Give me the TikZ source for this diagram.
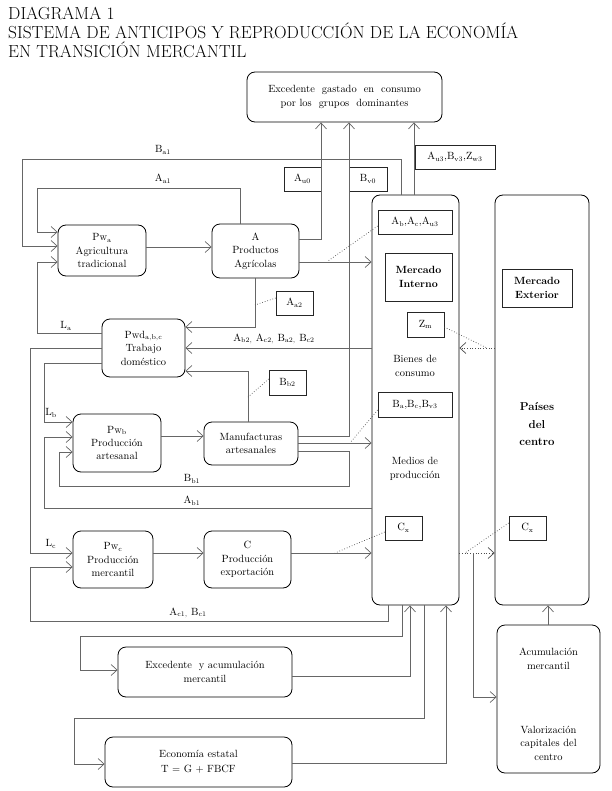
\documentclass[tikz,border=0pt]{standalone}
\usetikzlibrary{arrows.meta}
\begin{document}
\begin{tikzpicture}[x=1bp,y=-1bp,
  txt/.style={font=\fontsize{10.5}{13.5}\selectfont, align=center},
  rbox/.style={txt, draw, line width=0.8bp, rounded corners=8bp, inner sep=0pt},
  lbox/.style={txt, draw=black!85, line width=0.7bp, inner sep=0pt},
  conn/.style={draw=black!60, line width=0.7bp},
  arr/.style={conn, -{Straight Barb[length=6bp,width=11bp,line width=0.7bp]}},
  dots/.style={draw=black!70, line width=0.7bp, dotted},
  darr/.style={dots, -{Straight Barb[length=6bp,width=11bp,line width=0.7bp,sep=0pt]}},
  plain/.style={txt, inner sep=0pt}]
\useasboundingbox (0,0) rectangle (612,791);

% title
\node[anchor=north west, align=left, inner sep=0pt, font=\fontsize{17.5}{19}\selectfont] (title) at (8,7)
  {DIAGRAMA 1\\SISTEMA DE ANTICIPOS Y REPRODUCCIÓN DE LA ECONOMÍA\\EN TRANSICIÓN MERCANTIL};

% main boxes
\node[rbox, minimum width=195bp, minimum height=50bp] (top) at (344.5,97) {Excedente\ \ gastado\ \ en\ \ consumo\\por los\ \ grupos\ \ dominantes};
\node[rbox, minimum width=88bp, minimum height=51bp] (pwa) at (102,250.5) {Pw$_{\mathrm a}$\\Agricultura\\tradicional};
\node[rbox, minimum width=87bp, minimum height=54bp] (agr) at (255.5,251) {A\\Productos\\Agrícolas};
\node[rbox, minimum width=83bp, minimum height=58bp] (pwd) at (143.5,348) {Pwd$_{\mathrm{a,b,c}}$\\Trabajo\\doméstico};
\node[rbox, minimum width=88bp, minimum height=58bp] (pwb) at (117,443) {Pw$_{\mathrm b}$\\Producción\\artesanal};
\node[rbox, minimum width=94bp, minimum height=43bp] (man) at (251,443.5) {Manufacturas\\artesanales};
\node[rbox, minimum width=80bp, minimum height=57bp] (pwc) at (113,559.5) {Pw$_{\mathrm c}$\\Producción\\mercantil};
\node[rbox, minimum width=87bp, minimum height=57bp] (cexp) at (247.5,559.5) {C\\Producción\\exportación};
\node[rbox, minimum width=87bp, minimum height=410bp] (mi) at (415.5,400) {};
\node[rbox, minimum width=94bp, minimum height=410bp] (pc) at (542,400) {};
\node[rbox, minimum width=174bp, minimum height=50bp] (exc) at (205,672) {Excedente\ \ y acumulación\\mercantil};
\node[rbox, minimum width=187bp, minimum height=50bp] (est) at (198.5,762) {Economía estatal\\[2bp]T = G + FBCF};
\node[rbox, minimum width=103bp, minimum height=148bp] (acu) at (548.5,699) {};
\node[plain] (acu1) at (548.5,659) {Acumulación\\mercantil};
\node[plain] (acu2) at (548.5,743) {Valorización\\capitales del\\centro};

% label boxes
\node[lbox, minimum width=37bp, minimum height=24bp] (lau0) at (302.5,179) {A$_{\mathrm{u0}}$};
\node[lbox, minimum width=38bp, minimum height=24bp] (lbv0) at (368,179) {B$_{\mathrm{v0}}$};
\node[lbox, minimum width=80bp, minimum height=24bp] (lau3) at (455,157) {A$_{\mathrm{u3}}$,B$_{\mathrm{v3}}$,Z$_{\mathrm{w3}}$};
\node[lbox, minimum width=74bp, minimum height=24bp] (labc) at (415,222) {A$_{\mathrm{b}}$,A$_{\mathrm{c}}$,A$_{\mathrm{u3}}$};
\node[lbox, minimum width=67bp, minimum height=48bp] (lmi) at (418.5,277) {\textbf{Mercado}\\\textbf{Interno}};
\node[lbox, minimum width=37bp, minimum height=25bp] (lzm) at (425.5,324.5) {Z$_{\mathrm{m}}$};
\node[plain] (bien) at (415,366) {Bienes de\\consumo};
\node[lbox, minimum width=74bp, minimum height=25bp] (lbbc) at (415,404.5) {B$_{\mathrm{a}}$,B$_{\mathrm{c}}$,B$_{\mathrm{v3}}$};
\node[plain] (med) at (415,469) {Medios de\\producción};
\node[lbox, minimum width=37bp, minimum height=24bp] (lcx1) at (403.5,528) {C$_{\mathrm{x}}$};
\node[lbox, minimum width=70bp, minimum height=38bp] (lme) at (537,288) {\textbf{Mercado}\\\textbf{Exterior}};
\node[plain, font=\fontsize{11.5}{17.5}\selectfont\bfseries] (pais) at (537,424) {Países\\del\\centro};
\node[lbox, minimum width=37bp, minimum height=24bp] (lcx2) at (527.5,528) {C$_{\mathrm{x}}$};
\node[lbox, minimum width=37bp, minimum height=24bp] (laa2) at (294.5,303) {A$_{\mathrm{a2}}$};
\node[lbox, minimum width=37bp, minimum height=25bp] (lbb2) at (287.5,382.5) {B$_{\mathrm{b2}}$};

% connector labels
\node[plain] (tba1) at (163,150) {B$_{\mathrm{a1}}$};
\node[plain] (taa1) at (163,179) {A$_{\mathrm{a1}}$};
\node[plain] (tla) at (66,326) {L$_{\mathrm{a}}$};
\node[plain] (tab2) at (274,339) {A$_{\mathrm{b2,}}$ A$_{\mathrm{c2,}}$ B$_{\mathrm{a2,}}$ B$_{\mathrm{c2}}$};
\node[plain] (tlb) at (51,413) {L$_{\mathrm{b}}$};
\node[plain] (tbb1) at (192,479) {B$_{\mathrm{b1}}$};
\node[plain] (tab1) at (192,501) {A$_{\mathrm{b1}}$};
\node[plain] (tlc) at (51,544) {L$_{\mathrm{c}}$};
\node[plain] (tac1) at (188,613) {A$_{\mathrm{c1,}}$ B$_{\mathrm{c1}}$};

% connectors to the top box
\draw[arr] (agr.east |- 0,239) -| (top.south -| 321,0);
\draw[arr] (man.east |- 0,436) -| (top.south -| 349,0);
\draw[arr] (mi.north -| 414,0) -- (top.south -| 414,0);

% loops into Pw_a
\draw[arr] (mi.north -| 401,0) |- (22,159) |- (pwa.west |- 0,246);
\draw[arr] (agr.north -| 240,0) |- (37,188) |- (pwa.west |- 0,232);
\draw[arr] (pwd.west |- 0,333) -| (37,262) -- (pwa.west |- 0,262);

% flows from A
\draw[arr] (pwa.east |- 0,247) -- (agr.west |- 0,247);
\draw[arr] (agr.east |- 0,262) -- (mi.west |- 0,262);
\draw[dots] (labc.west |- 0,226) -- (328,261);
\draw[arr] (agr.south -| 255,0) |- (pwd.east |- 0,327);
\draw[dots] (laa2.west |- 0,298) -- (255,305);

% into domestic work
\draw[arr] (mi.west |- 0,348) -- (pwd.east |- 0,348);
\draw[arr] (man.north -| 248,0) |- (pwd.east |- 0,371);
\draw[dots] (lbb2.west |- 0,379) -- (248,397);

% labour flows
\draw[arr] (pwd.west |- 0,363) -| (44,422) -- (pwb.west |- 0,422);
\draw[arr] (pwd.west |- 0,348) -| (30,553) -- (pwc.west |- 0,553);

% artisan production
\draw[arr] (pwb.east |- 0,436) -- (man.west |- 0,436);
\draw[arr] (man.east |- 0,443) -- (mi.west |- 0,443);
\draw[dots] (lbbc.west |- 0,410) -- (350,443);
\draw[arr] (man.east |- 0,451) -| (349,486) -| (59,452) -- (pwb.west |- 0,452);
\draw[arr] (mi.west |- 0,508) -| (44,437) -- (pwb.west |- 0,437);

% mercantile production
\draw[arr] (pwc.east |- 0,553) -- (cexp.west |- 0,553);
\draw[arr] (cexp.east |- 0,553) -- (mi.west |- 0,553);
\draw[dots] (lcx1.west |- 0,532) -- (335,553);
\draw[arr] (mi.south -| 388,0) |- (30,621) |- (pwc.west |- 0,567);

% surplus and state
\draw[arr] (mi.south -| 402,0) |- (80,636) |- (exc.west |- 0,670);
\draw[arr] (exc.east |- 0,676) -| (mi.south -| 410,0);
\draw[arr] (mi.south -| 424,0) |- (74,718) |- (est.west |- 0,764);
\draw[arr] (est.east |- 0,763) -| (mi.south -| 446,0);

% external market
\draw[darr] (mi.east |- 0,553) -- (pc.west |- 0,553);
\draw[dots] (lcx2.west |- 0,523) -- (465,553);
\draw[darr] (pc.west |- 0,348) -- (mi.east |- 0,348);
\draw[dots] (lzm.east |- 0,327) -- (487,348);
\coordinate (xs) at (473,553);
\draw[arr] (xs) |- (acu.west |- 0,697);
\draw[arr] (acu.north -| 548,0) -- (pc.south -| 548,0);
\end{tikzpicture}
\end{document}
